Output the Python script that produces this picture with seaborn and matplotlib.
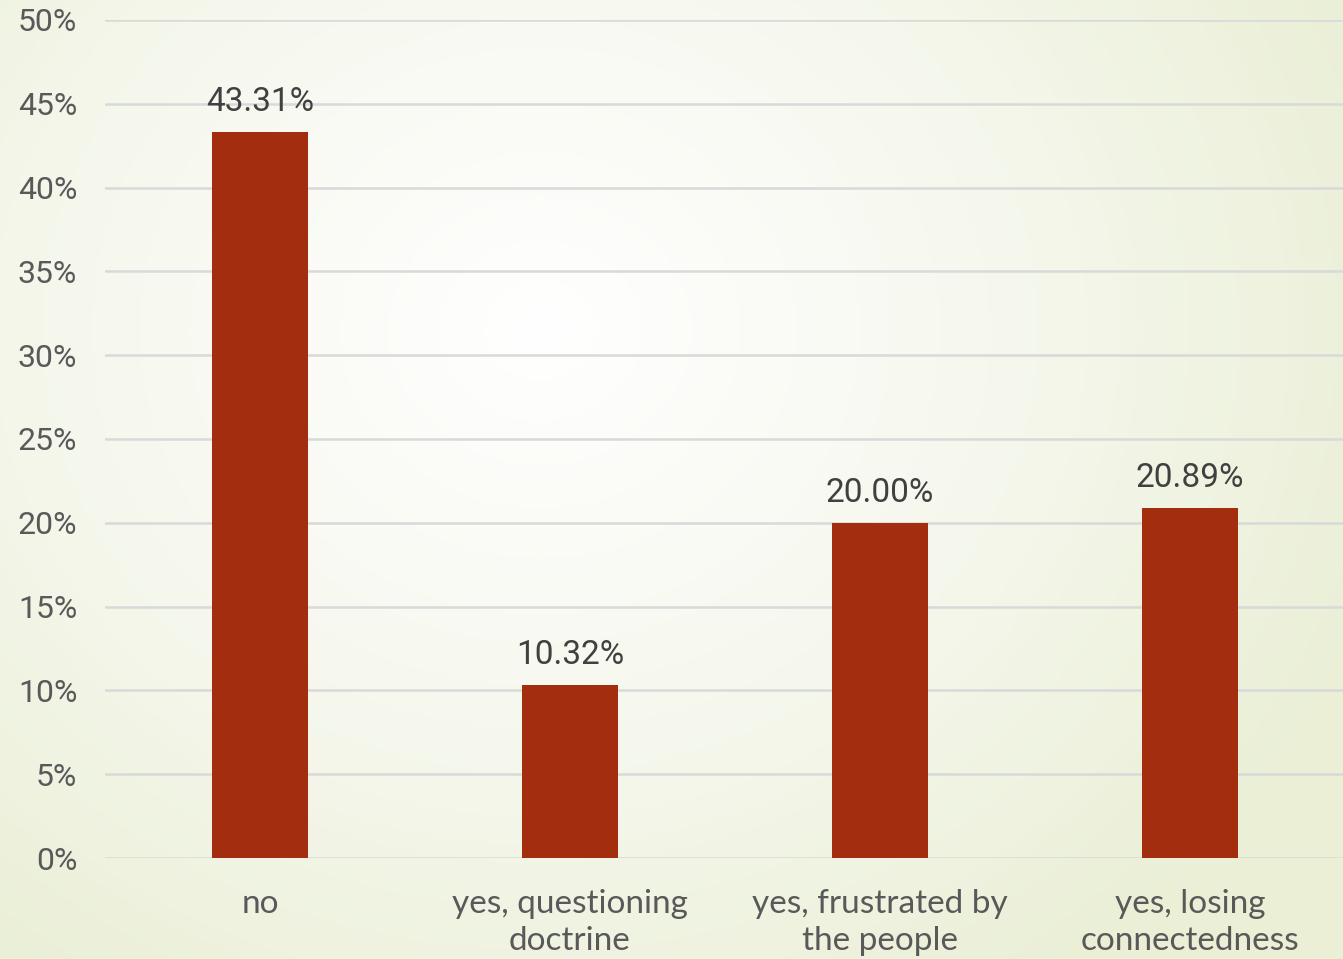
import numpy as np
import pandas as pd
import matplotlib.pyplot as plt
from matplotlib.colors import LinearSegmentedColormap
import seaborn as sns

categories = ["no", "yes, questioning\ndoctrine", "yes, frustrated by\nthe people", "yes, losing\nconnectedness"]
shares = [43.31, 10.32, 20.00, 20.89]
y_ticks = [0, 5, 10, 15, 20, 25, 30, 35, 40, 45, 50]

df = pd.DataFrame({"answer": categories, "share": shares})

sns.set_theme(style="white")
plt.rcParams["font.family"] = ["Roboto", "DejaVu Sans"]

fig = plt.figure(figsize=(13.43, 9.59), dpi=100)

# radial background, white in the middle, pale green towards the edges
bg = fig.add_axes([0, 0, 1, 1], zorder=-10)
gx, gy = np.meshgrid(np.linspace(0, 1343, 400), np.linspace(0, 959, 300))
r = np.sqrt(((gx - 540) / 900) ** 2 + ((gy - 330) / 800) ** 2)
cmap = LinearSegmentedColormap.from_list("bg", ["#ffffff", "#f6f8ee", "#eaefd6"])
bg.imshow(np.clip(r, 0, 1), cmap=cmap, vmin=0, vmax=1, aspect="auto", extent=[0, 1, 0, 1])
bg.axis("off")

ax = fig.add_axes([105 / 1343, 101 / 959, 1240 / 1343, 838 / 959])
ax.patch.set_alpha(0)

sns.barplot(data=df, x="answer", y="share", color="#A32D0F", saturation=1,
            width=0.31, linewidth=0, ax=ax, zorder=3)

ax.set_ylim(0, 50)
ax.set_xlim(-0.5, 3.5)
ax.set_yticks(y_ticks)
ax.set_yticklabels([f"{t}%" for t in y_ticks])
ax.yaxis.grid(True, color="#d9d9d9", linewidth=1.8, zorder=0)
ax.set_axisbelow(True)
for s in ax.spines.values():
    s.set_visible(False)
ax.set_xlabel("")
ax.set_ylabel("")
ax.tick_params(axis="y", length=0, pad=20, labelsize=23, labelcolor="#595959")
ax.tick_params(axis="x", length=0, pad=22, labelsize=24, labelcolor="#595959")
for lbl in ax.get_xticklabels():
    lbl.set_fontfamily(["Lato", "DejaVu Sans"])
    lbl.set_linespacing(1.3)

ax.bar_label(ax.containers[0], fmt="%.2f%%", padding=10, fontsize=24, color="#404040")

fig.savefig("out.png", dpi=100)
